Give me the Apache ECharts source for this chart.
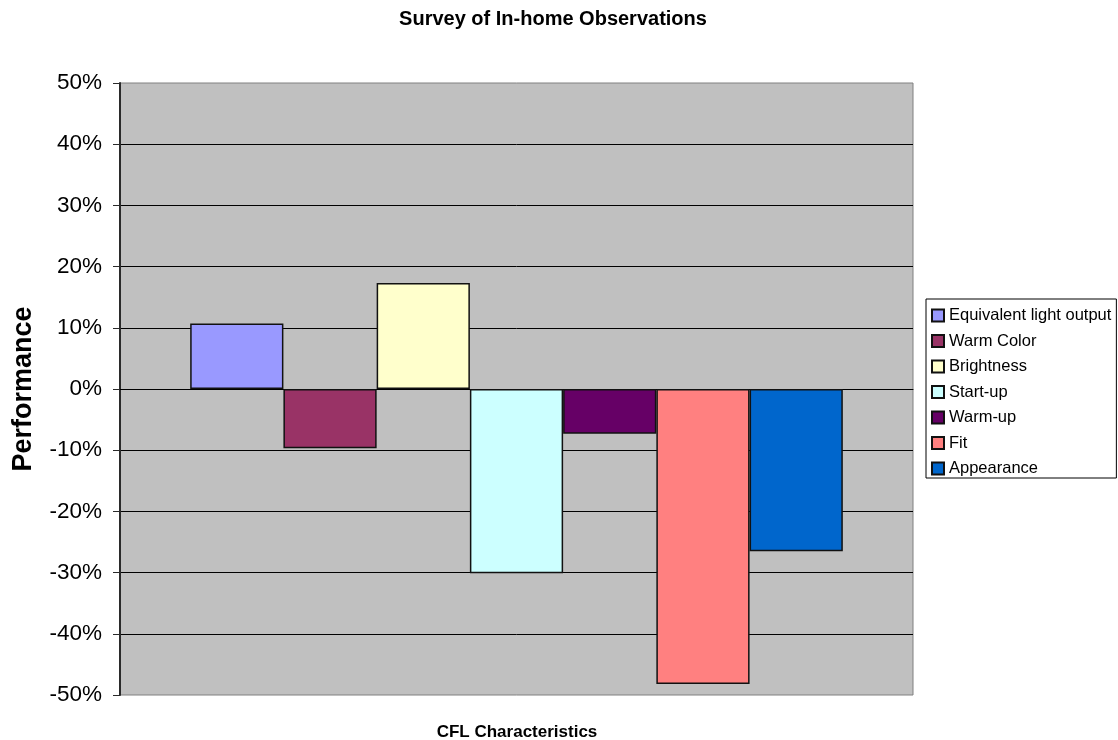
<!DOCTYPE html>
<html>
<head>
<meta charset="utf-8">
<title>Survey of In-home Observations</title>
<script src="https://cdn.jsdelivr.net/npm/echarts@6/dist/echarts.min.js"></script>
<style>
  html, body { margin: 0; padding: 0; background: #ffffff; }
  #chart { width: 1118px; height: 740px; }
</style>
</head>
<body>
<div id="chart"></div>
<script>
// CFL characteristics observed in homes, net performance in percent
const seriesNames = [
  'Equivalent light output',
  'Warm Color',
  'Brightness',
  'Start-up',
  'Warm-up',
  'Fit',
  'Appearance'
];
const seriesValues = [10.7, -9.7, 17.3, -30.1, -7.3, -48.2, -26.5];
const seriesColors = ['#9999FF', '#993366', '#FFFFCC', '#CCFFFF', '#660066', '#FF8080', '#0066CC'];
const categories = [''];
const yTicks = { min: -50, max: 50, step: 10 };

const FONT = "'Liberation Sans', Arial, Helvetica, sans-serif";

const chart = echarts.init(document.getElementById('chart'), null, { renderer: 'canvas' });

const series = seriesNames.map((name, i) => ({
  name: name,
  type: 'bar',
  data: [seriesValues[i]],
  barGap: '0%',
  barCategoryGap: '17.7%',
  itemStyle: {
    color: seriesColors[i],
    borderColor: '#111111',
    borderWidth: 1.5
  },
  emphasis: { disabled: true }
}));

chart.setOption({
  animation: false,
  backgroundColor: '#ffffff',
  title: [
    {
      text: 'Survey of In-home Observations',
      left: 548,
      top: 4,
      textAlign: 'center',
      textStyle: { fontFamily: FONT, fontSize: 20, fontWeight: 'bold', color: '#000000' }
    },
    {
      text: 'CFL Characteristics',
      left: 512,
      top: 719,
      textAlign: 'center',
      textStyle: { fontFamily: FONT, fontSize: 17, fontWeight: 'bold', color: '#000000' }
    }
  ],
  legend: {
    orient: 'vertical',
    left: 926,
    top: 299,
    padding: [8, 5, 1, 5],
    itemGap: 8.5,
    itemWidth: 12,
    itemHeight: 12,
    borderColor: '#000000',
    borderWidth: 1,
    backgroundColor: '#ffffff',
    selectedMode: false,
    data: seriesNames.map(n => ({ name: n, icon: 'rect' })),
    textStyle: { fontFamily: FONT, fontSize: 16.5, lineHeight: 16, color: '#000000' }
  },
  grid: {
    left: 120,
    top: 83,
    width: 793,
    height: 612,
    show: true,
    backgroundColor: '#C0C0C0',
    borderColor: '#808080',
    borderWidth: 1
  },
  xAxis: {
    type: 'category',
    data: categories,
    axisLine: { show: true, onZero: true, lineStyle: { color: '#000000', width: 1 } },
    axisTick: { show: false },
    axisLabel: { show: false },
    splitLine: { show: false }
  },
  yAxis: {
    type: 'value',
    min: yTicks.min,
    max: yTicks.max,
    interval: yTicks.step,
    name: 'Performance',
    nameLocation: 'middle',
    nameRotate: 90,
    nameGap: 83,
    nameTextStyle: { fontFamily: FONT, fontSize: 27, fontWeight: 'bold', color: '#000000' },
    axisLine: { show: true, lineStyle: { color: '#2a2a2a', width: 2 } },
    axisTick: { show: true, inside: false, length: 7, lineStyle: { color: '#2a2a2a', width: 1 } },
    axisLabel: {
      margin: 18,
      fontFamily: FONT,
      fontSize: 22.5,
      color: '#000000',
      formatter: '{value}%'
    },
    splitLine: {
      show: true,
      showMinLine: false,
      showMaxLine: false,
      lineStyle: { color: '#000000', width: 1 }
    }
  },
  series: series
});
</script>
</body>
</html>
